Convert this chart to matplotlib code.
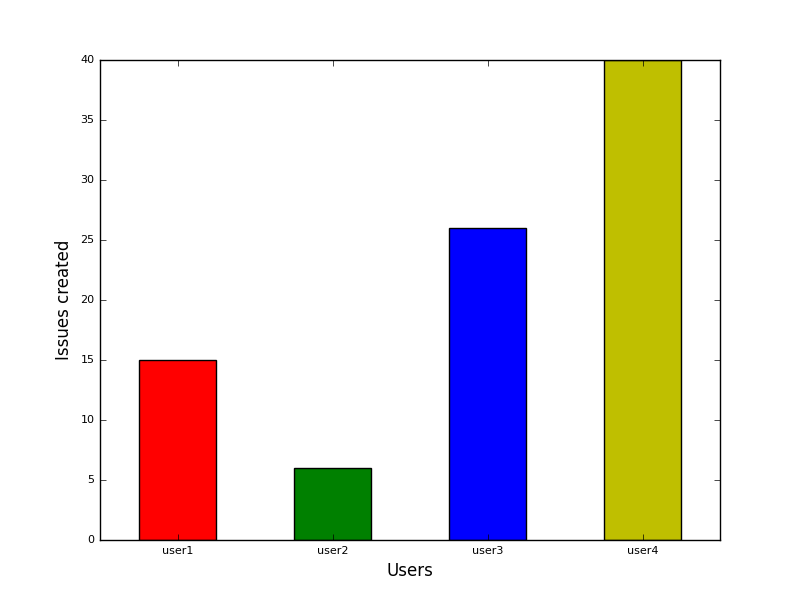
import matplotlib
matplotlib.use("Agg")
import matplotlib.pyplot as plt

plt.style.use("classic")

users = ["user1", "user2", "user3", "user4"]
issues = [15, 6, 26, 40]
colors = ["r", "g", "b", "y"]

fig = plt.figure(figsize=(8, 6), dpi=100)
ax = fig.add_subplot(111)
pos = list(range(len(users)))
ax.bar(pos, issues, width=0.5, color=colors, align="center")
ax.set_xticks(pos)
ax.set_xticklabels(users)
ax.set_xlim(-0.5, 3.5)
ax.set_ylim(0, 40)
ax.tick_params(labelsize=8)
ax.set_xlabel("Users")
ax.set_ylabel("Issues created")

fig.savefig("out.png", dpi=100)
